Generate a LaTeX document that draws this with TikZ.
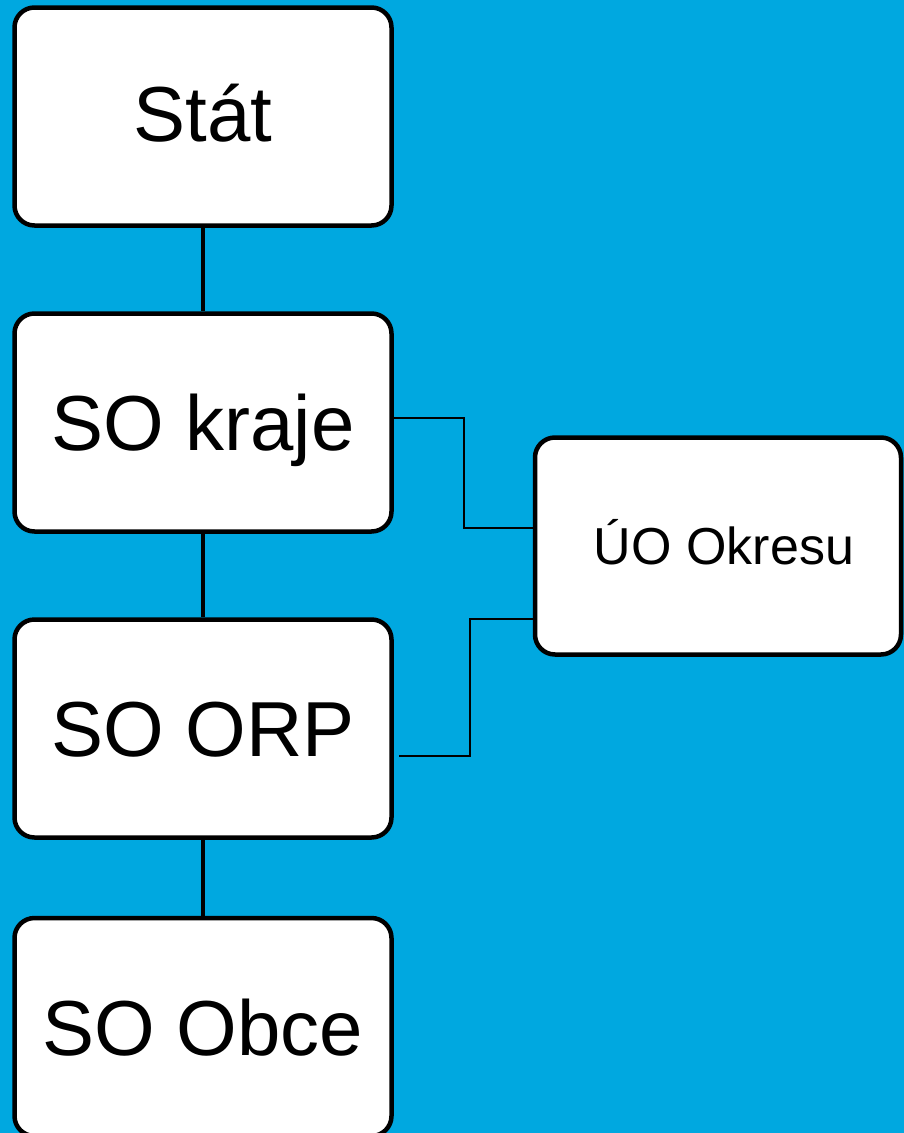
\documentclass[tikz,border=0pt]{standalone}
\usepackage{fontspec}
\setmainfont{Liberation Sans}
\usetikzlibrary{calc}
\definecolor{bgblue}{RGB}{0,168,224}
\tikzset{urad/.style={draw=black,fill=white,line width=4.5pt,rounded corners=20pt,minimum width=377pt,minimum height=218pt,
    text height=56pt,text depth=0pt,font=\fontsize{78}{80}\selectfont},
  maly/.style={urad,minimum width=366pt,minimum height=217pt,text height=37pt,font=\fontsize{52}{54}\selectfont},
  hlavni/.style={line width=4pt},
  spoj/.style={line width=2pt}}

\begin{document}
\begin{tikzpicture}[x=1pt,y=-1pt]
\useasboundingbox (0,0) rectangle (904,1133);
\clip (0,0) rectangle (904,1133);
\fill[bgblue](0,0) rectangle (904,1133);

\node[urad,text height=50pt](stat) at (203,116.5){Stát};
\node[urad](kraje) at (203,422.5){SO kraje};
\node[urad](orp) at (203,728.5){SO ORP};
\node[urad](obce) at (203,1027){SO Obce};
\node[maly](okres) at (718,546){\hspace*{12pt}ÚO Okresu};

\draw[hlavni](stat)--(kraje);
\draw[hlavni](kraje)--(orp);
\draw[hlavni](orp)--(obce);

\coordinate (orpend) at ($(orp.east)+(5,27)$);
\draw[spoj]([yshift=4.5pt]kraje.east)--++(70,0)|-([yshift=18pt]okres.west);
\draw[spoj]([yshift=-73pt]okres.west)--++(-63,0)|-(orpend);
\end{tikzpicture}
\end{document}
